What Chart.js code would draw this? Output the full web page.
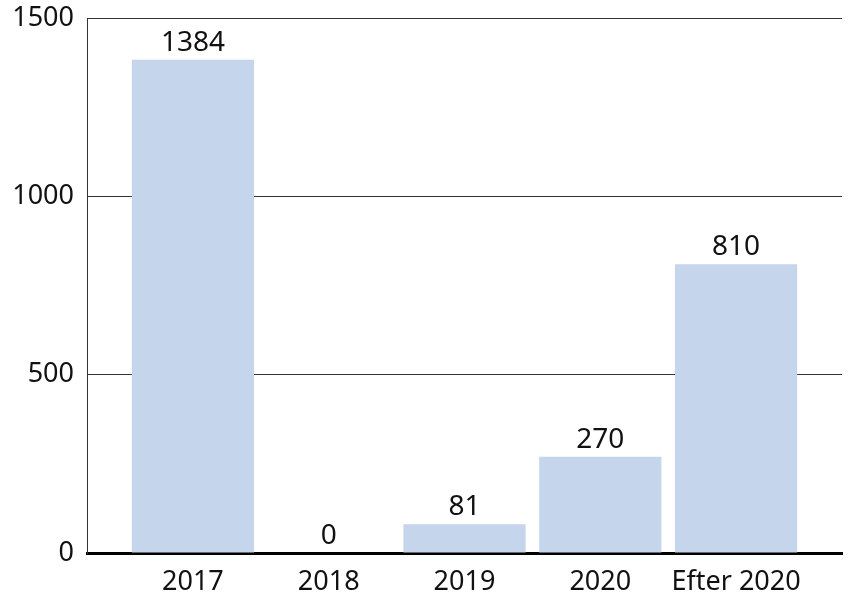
<!DOCTYPE html>
<html>
<head>
<meta charset="utf-8">
<script src="https://cdn.jsdelivr.net/npm/chart.js@4"></script>
<style>
  html, body { margin: 0; padding: 0; background: #fff; }
  #wrap { width: 853px; height: 605px; }
</style>
</head>
<body>
<div id="wrap"><canvas id="chart_canvas" width="853" height="605"></canvas></div>
<script>
const categories = ['2017', '2018', '2019', '2020', 'Efter 2020'];
const values = [1384, 0, 81, 270, 810];
const yTicks = [0, 500, 1000, 1500];

const FONT = '"Noto Sans", sans-serif';

// siffror ovanför staplarna
const valueLabels = {
    id: 'valueLabels',
    afterDatasetsDraw(chart) {
        const ctx = chart.ctx;
        const meta = chart.getDatasetMeta(0);
        ctx.save();
        ctx.font = '28px ' + FONT;
        ctx.fillStyle = '#111';
        ctx.textAlign = 'center';
        ctx.textBaseline = 'bottom';
        meta.data.forEach((bar, i) => {
            ctx.fillText(String(values[i]), bar.x, bar.y - 3);
        });
        ctx.restore();
    }
};

function createGraph(canvasId) {
    const ctx = document.getElementById(canvasId);

    new Chart(ctx, {
        type: 'bar',
        data: {
            datasets: [{
                data: values.map((v, i) => ({ x: i, y: v })),
                backgroundColor: '#c5d5ec',
                borderWidth: 0,
                barPercentage: 0.9,
                categoryPercentage: 1.0,
            }]
        },
        options: {
            responsive: false,
            animation: false,
            layout: {
                padding: { top: 16, right: 11, left: 0, bottom: 0 }
            },
            scales: {
                x: {
                    type: 'linear',
                    offset: false,
                    min: -0.78,
                    max: 4.78,
                    afterBuildTicks: s => { s.ticks = categories.map((c, i) => ({ value: i })); },
                    afterFit: s => { s.height = 52; },
                    grid: { display: false },
                    border: { display: true, color: '#000', width: 3 },
                    ticks: {
                        callback: v => categories[v],
                        font: { family: FONT, size: 27 },
                        color: '#111',
                        maxRotation: 0,
                        autoSkip: false,
                        padding: 5,
                    }
                },
                y: {
                    min: 0,
                    max: 1500,
                    afterBuildTicks: s => { s.ticks = yTicks.map(v => ({ value: v })); },
                    afterFit: s => { s.width = 87; },
                    grid: {
                        color: '#333',
                        lineWidth: 1,
                        drawTicks: false,
                    },
                    border: { display: true, color: '#333', width: 1 },
                    ticks: {
                        callback: v => String(v),
                        font: { family: FONT, size: 27, lineHeight: 0.4 },
                        color: '#111',
                        padding: 13,
                    }
                }
            },
            plugins: {
                legend: { display: false },
                tooltip: { enabled: false }
            }
        },
        plugins: [valueLabels]
    });
}

createGraph('chart_canvas');
</script>
</body>
</html>
